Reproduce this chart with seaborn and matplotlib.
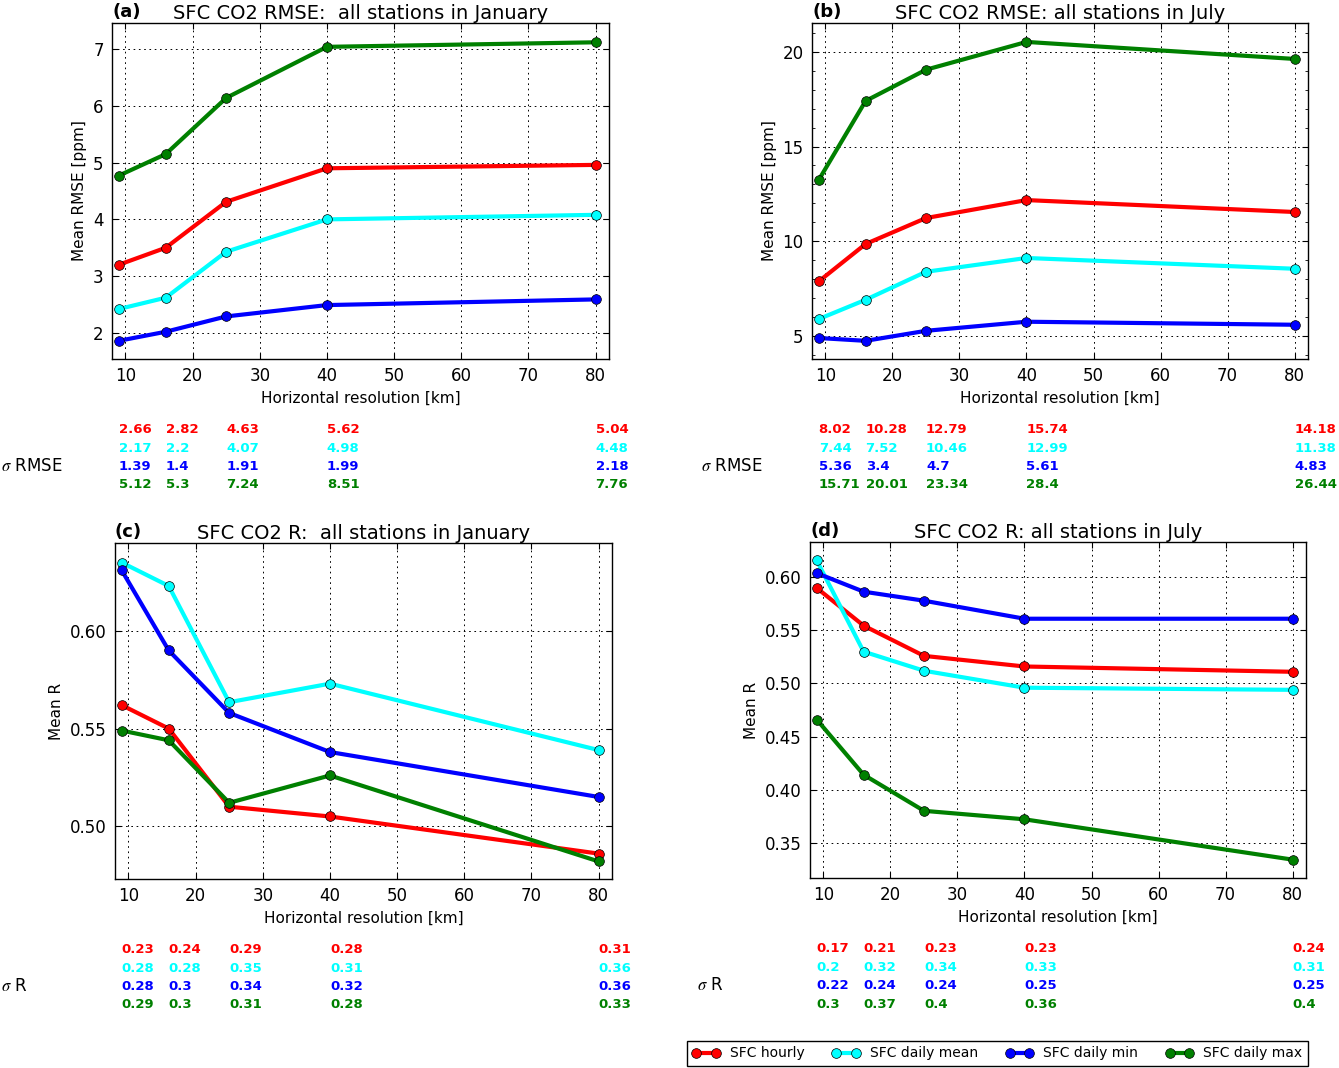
import matplotlib
matplotlib.use('Agg')
import matplotlib.pyplot as plt
import matplotlib.transforms as mtransforms
from matplotlib.lines import Line2D
from matplotlib.ticker import MultipleLocator
import seaborn as sns
import pandas as pd

# horizontal resolution of the runs [km]
resolution = [9, 16, 25, 40, 80]
series = ['SFC hourly', 'SFC daily mean', 'SFC daily min', 'SFC daily max']
colors = ['#ff0000', '#00ffff', '#0000ff', '#008000']

# mean RMSE, January
rmse_jan_hourly = [3.20, 3.50, 4.31, 4.90, 4.96]
rmse_jan_mean = [2.42, 2.62, 3.43, 4.00, 4.08]
rmse_jan_min = [1.86, 2.02, 2.29, 2.49, 2.59]
rmse_jan_max = [4.77, 5.15, 6.14, 7.04, 7.12]
# mean RMSE, July
rmse_jul_hourly = [7.87, 9.85, 11.22, 12.17, 11.54]
rmse_jul_mean = [5.88, 6.90, 8.38, 9.11, 8.54]
rmse_jul_min = [4.88, 4.73, 5.26, 5.74, 5.58]
rmse_jul_max = [13.23, 17.41, 19.06, 20.53, 19.63]
# mean R, January
r_jan_hourly = [0.562, 0.550, 0.510, 0.505, 0.486]
r_jan_mean = [0.635, 0.623, 0.5635, 0.573, 0.539]
r_jan_min = [0.631, 0.590, 0.558, 0.538, 0.515]
r_jan_max = [0.549, 0.544, 0.512, 0.526, 0.482]
# mean R, July
r_jul_hourly = [0.590, 0.5545, 0.526, 0.516, 0.511]
r_jul_mean = [0.616, 0.530, 0.512, 0.496, 0.494]
r_jul_min = [0.604, 0.5865, 0.578, 0.561, 0.561]
r_jul_max = [0.466, 0.414, 0.380, 0.372, 0.334]

# standard deviations printed below each panel
sd_rmse_jan_hourly = [2.66, 2.82, 4.63, 5.62, 5.04]
sd_rmse_jan_mean = [2.17, 2.2, 4.07, 4.98, 4.48]
sd_rmse_jan_min = [1.39, 1.4, 1.91, 1.99, 2.18]
sd_rmse_jan_max = [5.12, 5.3, 7.24, 8.51, 7.76]
sd_rmse_jul_hourly = [8.02, 10.28, 12.79, 15.74, 14.18]
sd_rmse_jul_mean = [7.44, 7.52, 10.46, 12.99, 11.38]
sd_rmse_jul_min = [5.36, 3.4, 4.7, 5.61, 4.83]
sd_rmse_jul_max = [15.71, 20.01, 23.34, 28.4, 26.44]
sd_r_jan_hourly = [0.23, 0.24, 0.29, 0.28, 0.31]
sd_r_jan_mean = [0.28, 0.28, 0.35, 0.31, 0.36]
sd_r_jan_min = [0.28, 0.3, 0.34, 0.32, 0.36]
sd_r_jan_max = [0.29, 0.3, 0.31, 0.28, 0.33]
sd_r_jul_hourly = [0.17, 0.21, 0.23, 0.23, 0.24]
sd_r_jul_mean = [0.2, 0.32, 0.34, 0.33, 0.31]
sd_r_jul_min = [0.22, 0.24, 0.24, 0.25, 0.25]
sd_r_jul_max = [0.3, 0.37, 0.4, 0.36, 0.4]

plt.rcParams.update({
    'font.family': ['DejaVu Sans'],
    'mathtext.fontset': 'stix',
    'lines.scale_dashes': False,
    'xtick.direction': 'in', 'ytick.direction': 'in',
    'xtick.top': True, 'ytick.right': True,
    'xtick.major.size': 4, 'ytick.major.size': 4,
    'ytick.minor.size': 2,
    'xtick.labelsize': 12, 'ytick.labelsize': 12,
    'xtick.major.pad': 6, 'ytick.major.pad': 6,
    'axes.linewidth': 1.0,
})

W, H = 1339, 1068
fig = plt.figure(figsize=(W / 100, H / 100), dpi=100)

panels = [
    dict(box=(112, 23, 609, 359), tag='(a)', title='SFC CO2 RMSE:  all stations in January',
         ylabel='Mean RMSE [ppm]', ylim=(1.54, 7.46), yticks=[2, 3, 4, 5, 6, 7], minor=None,
         vals=[rmse_jan_hourly, rmse_jan_mean, rmse_jan_min, rmse_jan_max],
         sd=[sd_rmse_jan_hourly, sd_rmse_jan_mean, sd_rmse_jan_min, sd_rmse_jan_max],
         sdlabel=r'$\sigma$ RMSE', sdx=1),
    dict(box=(812, 23, 1308, 359), tag='(b)', title='SFC CO2 RMSE: all stations in July',
         ylabel='Mean RMSE [ppm]', ylim=(3.77, 21.53), yticks=[5, 10, 15, 20], minor=1,
         vals=[rmse_jul_hourly, rmse_jul_mean, rmse_jul_min, rmse_jul_max],
         sd=[sd_rmse_jul_hourly, sd_rmse_jul_mean, sd_rmse_jul_min, sd_rmse_jul_max],
         sdlabel=r'$\sigma$ RMSE', sdx=701),
    dict(box=(115, 543, 612, 879), tag='(c)', title='SFC CO2 R:  all stations in January',
         ylabel='Mean R', ylim=(0.473, 0.645), yticks=[0.50, 0.55, 0.60], minor=None,
         vals=[r_jan_hourly, r_jan_mean, r_jan_min, r_jan_max],
         sd=[sd_r_jan_hourly, sd_r_jan_mean, sd_r_jan_min, sd_r_jan_max],
         sdlabel=r'$\sigma$ R', sdx=1),
    dict(box=(810, 542, 1306, 878), tag='(d)', title='SFC CO2 R: all stations in July',
         ylabel='Mean R', ylim=(0.3167, 0.6333), yticks=[0.35, 0.40, 0.45, 0.50, 0.55, 0.60], minor=None,
         vals=[r_jul_hourly, r_jul_mean, r_jul_min, r_jul_max],
         sd=[sd_r_jul_hourly, sd_r_jul_mean, sd_r_jul_min, sd_r_jul_max],
         sdlabel=r'$\sigma$ R', sdx=697),
]

row_y = [-0.210, -0.265, -0.319, -0.375]

for p in panels:
    x0, y0, x1, y1 = p['box']
    ax = fig.add_axes([x0 / W, 1 - y1 / H, (x1 - x0) / W, (y1 - y0) / H])
    df = pd.DataFrame({
        'res': resolution * len(series),
        'val': sum(p['vals'], []),
        'series': [s for s in series for _ in resolution],
    })
    sns.lineplot(data=df, x='res', y='val', hue='series', hue_order=series,
                 palette=dict(zip(series, colors)), errorbar=None, legend=False,
                 linewidth=3, marker='o', markersize=7,
                 markeredgecolor='black', markeredgewidth=0.5, ax=ax)
    ax.set_xlim(8, 82)
    ax.set_ylim(*p['ylim'])
    ax.set_xticks([10, 20, 30, 40, 50, 60, 70, 80])
    ax.set_yticks(p['yticks'])
    if p['minor']:
        ax.yaxis.set_minor_locator(MultipleLocator(p['minor']))
        ax.tick_params(axis='y', which='minor', direction='in', right=True, left=True)
    ax.grid(True, color='black', linestyle=(0, (1.2, 2.6)), linewidth=0.7)
    ax.set_xlabel('Horizontal resolution [km]', fontsize=11)
    ax.set_ylabel(p['ylabel'], fontsize=11)
    ax.set_title(p['title'], fontsize=14, pad=3)
    ax.text(0.0, 1.005, p['tag'], transform=ax.transAxes, ha='left', va='bottom',
            fontsize=13, fontweight='bold')

    # sigma table under the axes, columns at each resolution
    trans = mtransforms.blended_transform_factory(ax.transData, ax.transAxes)
    for row, (vals, col) in enumerate(zip(p['sd'], colors)):
        for xr, v in zip(resolution, vals):
            ax.text(xr, row_y[row], str(v), transform=trans, ha='left', va='center',
                    color=col, fontsize=9.5, fontweight='bold', clip_on=False)
    ltrans = mtransforms.blended_transform_factory(fig.transFigure, ax.transAxes)
    ax.text(p['sdx'] / W, row_y[2], p['sdlabel'], transform=ltrans, ha='left',
            va='center', fontsize=12)

handles = [Line2D([], [], color=c, linewidth=3, marker='o', markersize=7,
                  markeredgecolor='black', markeredgewidth=0.5) for c in colors]
leg = fig.legend(handles, series, loc='lower right', bbox_to_anchor=(1308 / W, 2 / H),
                 ncol=4, fontsize=10, numpoints=2, handlelength=2, columnspacing=2.0,
                 handletextpad=0.7, fancybox=False, framealpha=1, edgecolor='black',
                 borderaxespad=0, borderpad=0.4)
leg.get_frame().set_linewidth(1.0)

fig.savefig('out.png', dpi=100)
